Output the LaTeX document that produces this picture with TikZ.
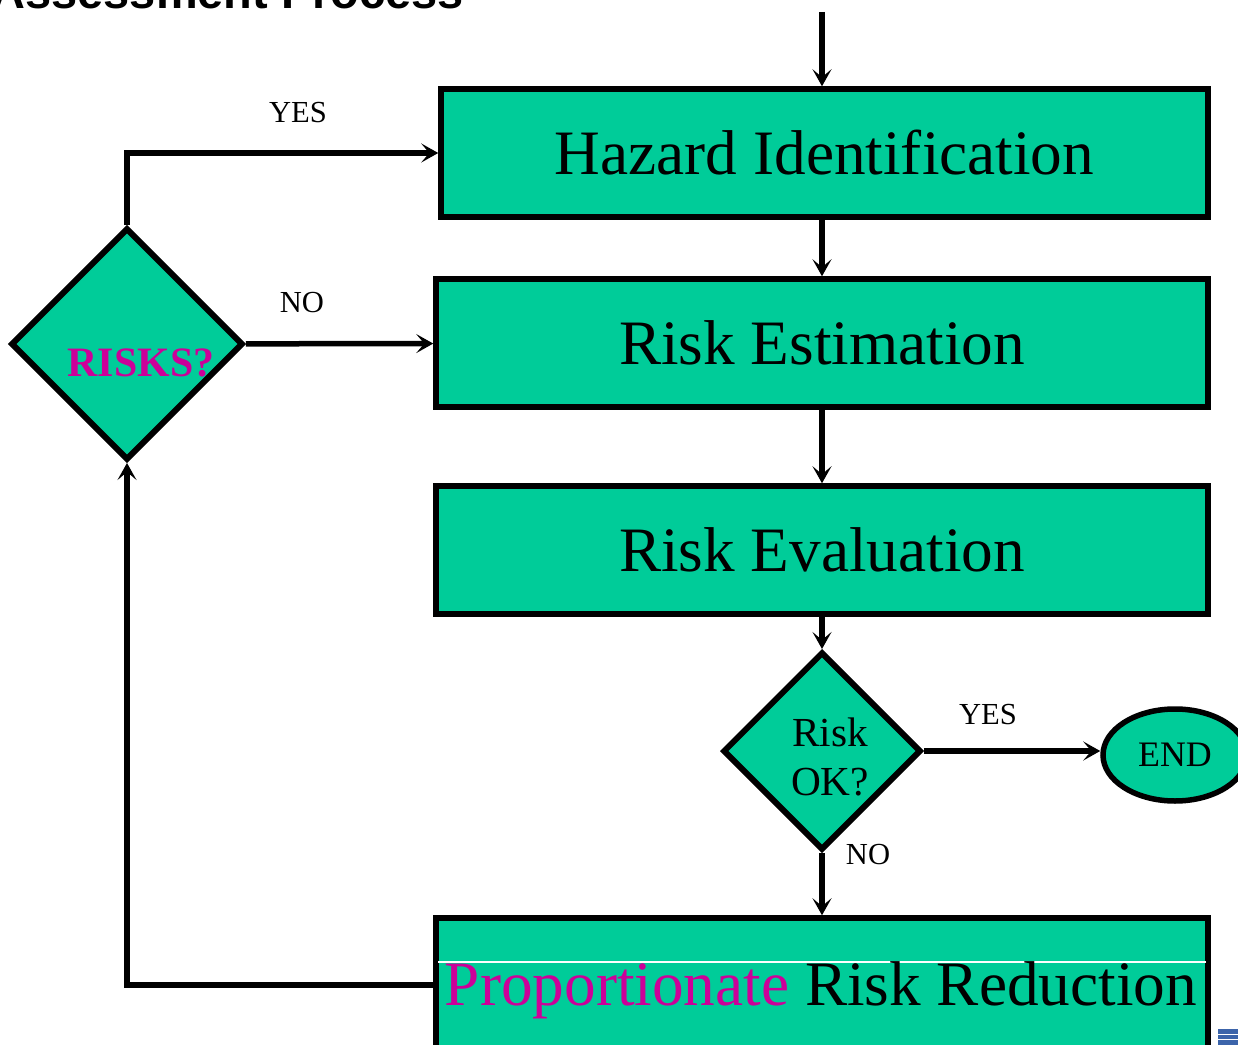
\documentclass[tikz,border=0pt]{standalone}
\usepackage{fontspec}
\setmainfont{Liberation Serif}
\newfontfamily\titelfont{Liberation Sans}
\usetikzlibrary{arrows.meta, shapes.geometric}
\definecolor{tuerkis}{RGB}{0,204,153}
\definecolor{lila}{RGB}{204,0,153}
\definecolor{blaugrau}{RGB}{60,100,170}
\begin{document}
\begin{tikzpicture}[x = 0.2mm, y = -0.2mm]
		\tikzstyle{every node} = [font = \fontsize{17.4}{20}\selectfont]
		\tikzstyle{kasten} = [draw = black, fill = tuerkis, line width = 1.1mm, inner sep = 0mm,
			minimum width = 154.4mm, minimum height = 25.6mm, font = \fontsize{36}{40}\selectfont]
		\tikzstyle{raute} = [diamond, draw = black, fill = tuerkis, line width = 1.2mm, inner sep = 0mm]
		\tikzstyle{pfeil} = [line width = 1.1mm, -{Stealth[length = 3.4mm, width = 3.8mm, inset = 1.6mm]}]

\useasboundingbox (0,0) rectangle (1238,1045);

% Titel
\node[anchor = base east, font = \titelfont\bfseries\fontsize{26.7}{30}\selectfont] (titel) at (470,9) {Assessment Process};

% Kästen
\node[kasten, minimum width = 153.4mm] (hazard) at (824.5,153) {Hazard Identification};
\node[kasten] (estimate) at (822,343) {Risk Estimation};
\node[kasten] (evaluate) at (822,550) {Risk Evaluation};
\node[kasten, minimum height = 26.8mm] (reduce) at (822,985) {};
\draw[white, line width = 0.3mm]
	(438,962) -- (1206,962);
\node[anchor = base, font = \fontsize{36}{40}\selectfont] (reduceText) at (821,1005)
	{\textcolor{lila}{Proportionate} Risk Reduction};

% Entscheidungen
\node[raute, minimum width = 46.4mm, minimum height = 46.4mm] (risks) at (127,344) {};
\node[text = lila, font = \bfseries\fontsize{23.8}{28}\selectfont] (risksText) at (141,363) {RISKS?};
\node[raute, minimum width = 39.6mm, minimum height = 39.6mm] (ok) at (822,751) {};
\node[align = center, font = \fontsize{23.5}{28}\selectfont] (okText) at (830,757) {Risk\\OK?};
\node[ellipse, draw = black, fill = tuerkis, line width = 1.1mm, minimum width = 28.8mm,
	minimum height = 18.4mm, font = \fontsize{20.4}{24}\selectfont] (end) at (1175,755) {END};

% Pfeile
\coordinate (start) at (822,12);
\draw[pfeil] (start) -- (start |- hazard.north);
\draw[pfeil] (hazard.south -| estimate) -- (estimate);
\draw[pfeil] (estimate) -- (evaluate);
\draw[pfeil] (evaluate) -- (ok);
\draw[pfeil] (ok.east) -- (ok.east -| end.west);
\draw[pfeil] (ok) -- (reduce);
\draw[pfeil] (reduce.west) -| (risks.south);
\draw[pfeil] (risks.north) |- (hazard.west);
\draw[pfeil] (risks) -- (estimate);

% Beschriftung
\node (yesTop) at (298,113) {YES};
\node (noTop) at (302,303) {NO};
\node (yesEnd) at (988,715) {YES};
\node (noOk) at (868,855) {NO};

% Symbol
\fill[blaugrau] (1218,1029) rectangle (1240,1045);
\draw[white, line width = 0.2mm]
	(1218,1034) -- ++(22,0)
	(1218,1039) -- ++(22,0);

	\end{tikzpicture}
\end{document}
